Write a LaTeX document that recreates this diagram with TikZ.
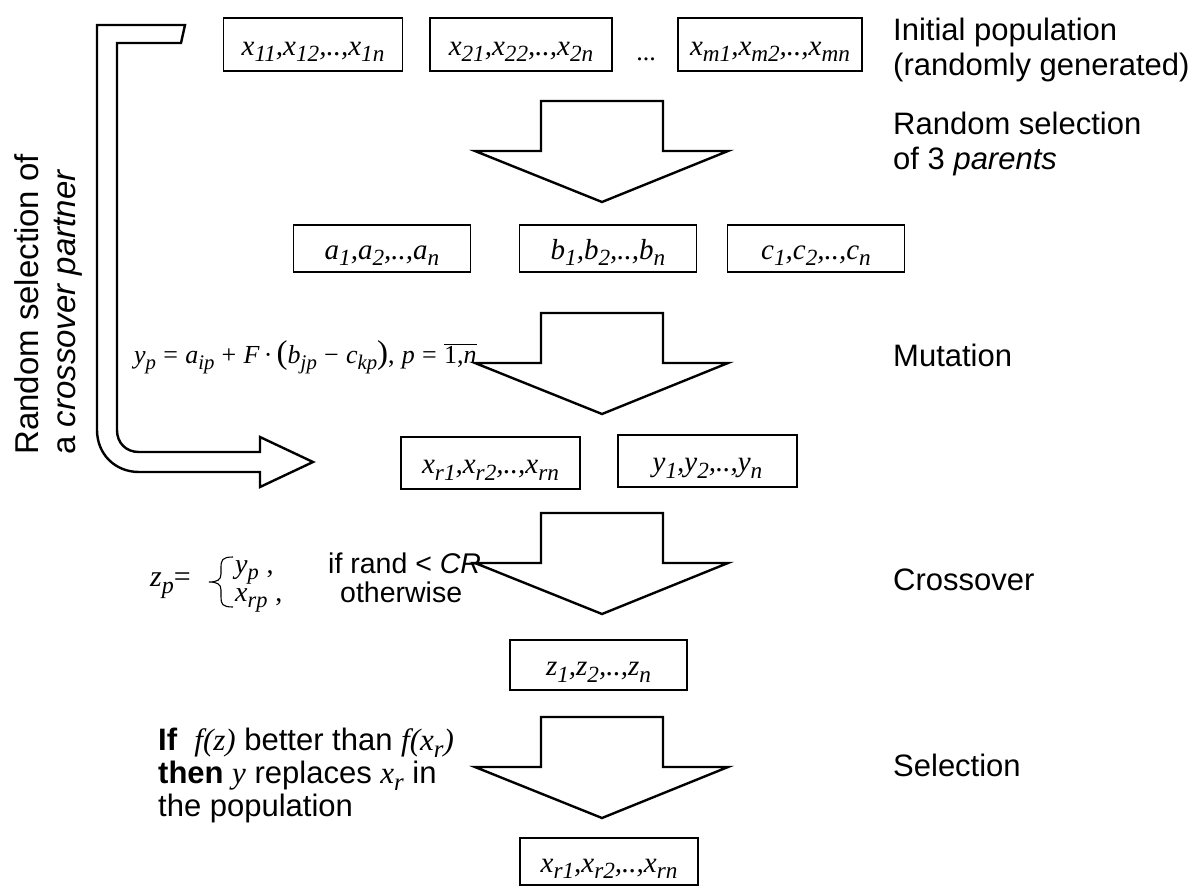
\documentclass[tikz,border=0pt]{standalone}
\usepackage{fontspec}
\setmainfont{Liberation Sans}
\newfontfamily\tms{Liberation Serif}
\newcommand\vi[1]{{\tms\itshape #1}}
\newcommand\vu[1]{{\tms #1}}
\newcommand\sbs[1]{\raisebox{-0.24em}{\scalebox{0.8}{#1}}}
\tikzset{
    vecbox/.style={draw, line width=1.8pt, inner sep=0pt, minimum width=179pt, minimum height=50pt, text height=21pt, text depth=0pt, font=\fontsize{29}{34}\selectfont\tms\itshape},
    steplabel/.style={anchor=west, align=left, inner sep=0pt, font=\fontsize{31}{35}\selectfont},
    formula/.style={anchor=base west, inner sep=0pt, font=\fontsize{26}{30}\selectfont},
    condtext/.style={anchor=base west, inner sep=0pt, font=\fontsize{28.5}{30}\selectfont},
    blockarrow/.style={draw, line width=2.4pt, line join=miter},
    hollow/.style={draw, line width=2.4pt, line join=miter},
    bracepath/.style={draw, line width=1.1pt}
}

\begin{document}
\begin{tikzpicture}[x=1pt, y=-1pt]
    \useasboundingbox (0,0) rectangle (1203,892);

    % initial population
    \node[vecbox, minimum height=53pt] (init1) at (313,44.5) {x\sbs{11},x\sbs{12},..,x\sbs{1n}};
    \node[vecbox, minimum height=53pt, minimum width=182pt] (init2) at (521,44.5) {x\sbs{21},x\sbs{22},..,x\sbs{2n}};
    \node[inner sep=0pt, font=\fontsize{26}{28}\selectfont\tms] (dots) at (646,59) {...};
    \node[vecbox, minimum height=53pt, minimum width=184pt] (initm) at (770,44.5) {x\sbs{m1},x\sbs{m2},..,x\sbs{mn}};

    % parents
    \node[vecbox, minimum height=47pt, minimum width=177pt] (par_a) at (382,248.5) {a\sbs{1},a\sbs{2},..,a\sbs{n}};
    \node[vecbox, minimum height=47pt, minimum width=177pt] (par_b) at (608,248.5) {b\sbs{1},b\sbs{2},..,b\sbs{n}};
    \node[vecbox, minimum height=47pt, minimum width=177pt] (par_c) at (816,248.5) {c\sbs{1},c\sbs{2},..,c\sbs{n}};

    % target and mutant
    \node[vecbox, minimum height=52pt] (target) at (490.5,463) {x\sbs{r1},x\sbs{r2},..,x\sbs{rn}};
    \node[vecbox, minimum height=52pt] (mutant) at (707.5,461) {y\sbs{1},y\sbs{2},..,y\sbs{n}};

    % trial and survivor
    \node[vecbox, minimum width=177pt] (trial) at (598.5,665) {z\sbs{1},z\sbs{2},..,z\sbs{n}};
    \node[vecbox, minimum height=47pt, minimum width=178pt] (survivor) at (609,861.5) {x\sbs{r1},x\sbs{r2},..,x\sbs{rn}};

    % big down arrows
    \foreach \t in {101,313,513,717}
        \draw[blockarrow] (541,\t) -- (663,\t) -- (663,\t+50) -- (728,\t+50) -- (602,\t+101) -- (475,\t+50) -- (541,\t+50) -- cycle;

    % crossover partner arrow
    \draw[hollow] (185,25) -- (97,25) -- (97,430) .. controls (97,454) and (115,472) .. (139,472) -- (260,472) -- (260,487) -- (313,462) -- (260,437) -- (260,452) -- (139,452) .. controls (126,452) and (117,443) .. (117,430) -- (117,43) -- (181,43) -- cycle;
    \node[rotate=90, anchor=north west, align=left, inner sep=0pt, font=\fontsize{33}{37}\selectfont] (partner) at (14,455) {Random selection of\\a \textit{crossover partner}};

    % right column
    \node[steplabel] (lbl_init) at (893,50) {Initial population\\(randomly generated)};
    \node[steplabel] (lbl_par) at (893,144) {Random selection\\of 3 \textit{parents}};
    \node[steplabel] (lbl_mut) at (893,355) {Mutation};
    \node[steplabel] (lbl_cross) at (893,580) {Crossover};
    \node[steplabel] (lbl_sel) at (893,765) {Selection};

    % mutation formula
    \node[formula] (mutform) at (134,363) {\vi{y\sbs{p}} \vu{=} \vi{a\sbs{ip}} \vu{+} \vi{F}\,\vu{·}\,\vu{{\fontsize{33}{33}\selectfont(}}\vi{b\sbs{jp}} \vu{−} \vi{c\sbs{kp}}\vu{{\fontsize{33}{33}\selectfont)}}\vu{,} \vi{p} \vu{=} $\overline{\hbox{\tms 1,\itshape n}}$};

    % crossover formula
    \node[formula, font=\fontsize{30}{30}\selectfont] (zp) at (150,586) {\vi{z\sbs{p}}\vu{=}};
    \draw[bracepath] (233,557) .. controls (222,557) and (221,560) .. (221,568) -- (221,574) .. controls (221,580) and (217,582) .. (209,582) .. controls (217,582) and (221,584) .. (221,590) -- (221,597) .. controls (221,604) and (222,607) .. (233,607);
    \node[formula, font=\fontsize{28}{30}\selectfont] (case1) at (235,573) {\vi{y\sbs{p}} \vu{,}};
    \node[formula, font=\fontsize{28}{30}\selectfont] (case2) at (235,601) {\vi{x\sbs{rp}} \vu{,}};
    \node[condtext] (cond1) at (328,573) {if rand < \textit{CR}};
    \node[condtext] (cond2) at (340,602) {otherwise};

    % selection rule
    \node[steplabel, font=\fontsize{31}{33}\selectfont] (selrule) at (158,775) {\textbf{If} \ \vi{f(z)} better than \vi{f(x\sbs{r})}\\\textbf{then} \vi{y} replaces \vi{x\sbs{r}} in\\the population};
\end{tikzpicture}
\end{document}
